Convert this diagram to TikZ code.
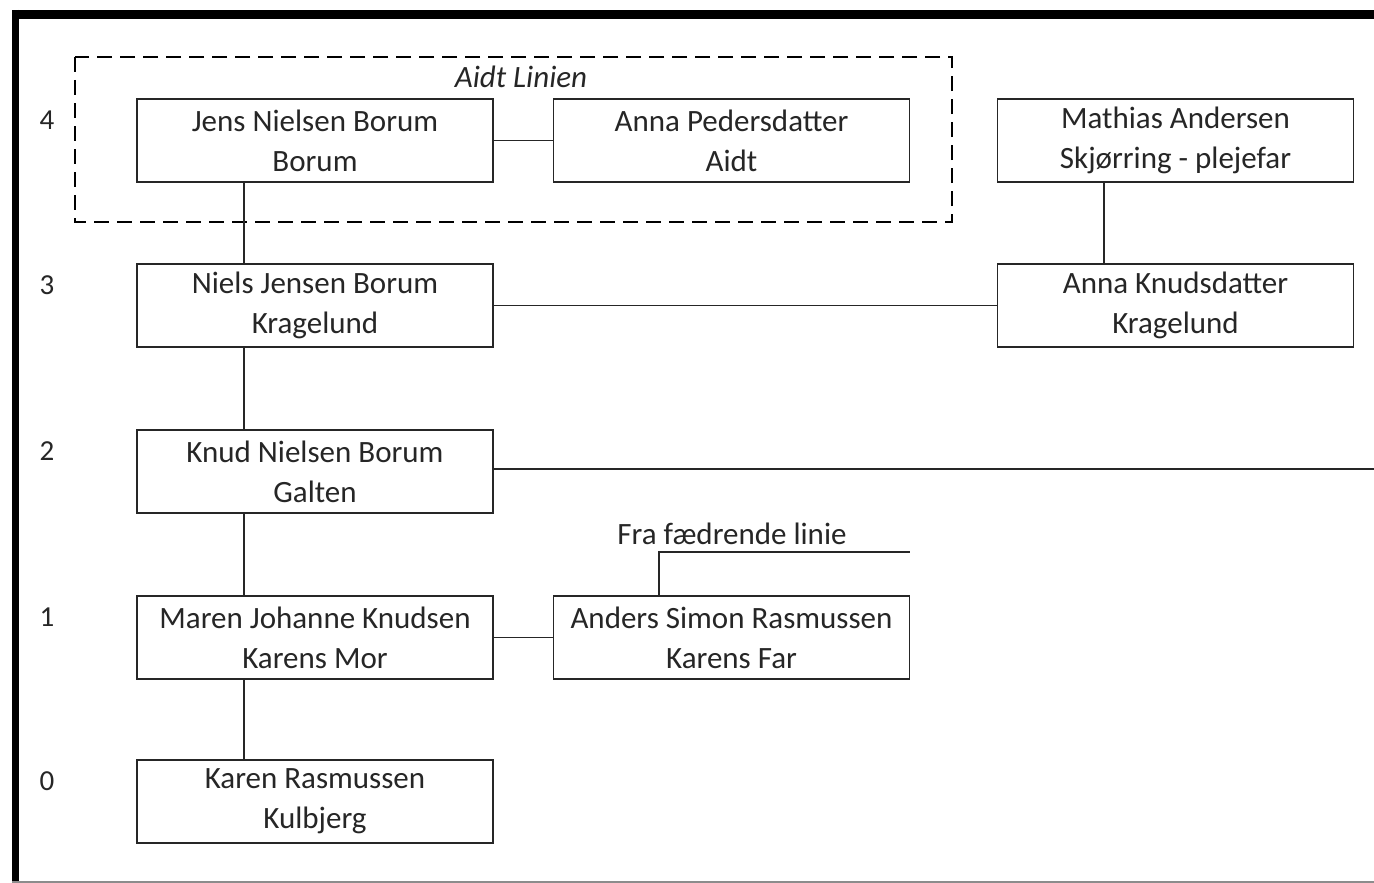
\documentclass[tikz,border=0pt]{standalone}
\usepackage{fontspec}
\setmainfont{Carlito}
\begin{document}
\begin{tikzpicture}[x=1pt,y=-1pt,
  person/.style={draw=black!85,line width=1.8pt,minimum width=356pt,minimum height=83pt,inner sep=0pt,
    align=center,font=\fontsize{31}{40}\selectfont,text=black!85},
  lvl/.style={font=\fontsize{29}{30}\selectfont,text=black!85},
  link/.style={draw=black!85,line width=1.8pt}]
\useasboundingbox (0,0) rectangle (1374,883);
\fill[white] (0,0) rectangle (1374,883);
% outer frame
\draw[line width=9pt] (12,14.5) -- (1374,14.5);
\draw[line width=7pt] (15.5,10) -- (15.5,883);
\draw[black!45,line width=1.5pt] (12,882) -- (1374,882);
% dashed group
\draw[line width=2pt,dash pattern=on 15pt off 8pt] (75,57) rectangle (952,222);
\node[font=\fontsize{31}{30}\selectfont\itshape,text=black!85] (aidt) at (521,77) {Aidt Linien};
% level numbers
\node[lvl] (l4) at (47,120) {4};
\node[lvl] (l3) at (47,285) {3};
\node[lvl] (l2) at (47,451) {2};
\node[lvl] (l1) at (47,617) {1};
\node[lvl] (l0) at (47,781) {0};
% persons
\node[person] (jens) at (315,140.5) {Jens Nielsen Borum\\Borum};
\node[person] (annap) at (731.5,140.5) {Anna Pedersdatter\\Aidt};
\node[person] (math) at (1175.5,140.5) {Mathias Andersen\\Skjørring - plejefar};
\node[person] (niels) at (315,305.5) {Niels Jensen Borum\\Kragelund};
\node[person] (annak) at (1175.5,305.5) {Anna Knudsdatter\\Kragelund};
\node[person] (knud) at (315,471.5) {Knud Nielsen Borum\\Galten};
\node[person] (maren) at (315,637.5) {Maren Johanne Knudsen\\Karens Mor};
\node[person] (anders) at (731.5,637.5) {Anders Simon Rasmussen\\Karens Far};
\node[person] (karen) at (315,801.5) {Karen Rasmussen\\Kulbjerg};
\node[font=\fontsize{31}{30}\selectfont,text=black!85] (fra) at (732,534) {Fra fædrende linie};
\coordinate (knudend) at (1374,469);
\coordinate (fraend) at (910,552);
% connectors
\draw[link] (jens.east) -- (annap.west);
\draw[link] (jens.south -| 244,0) -- (niels.north -| 244,0);
\draw[link] (niels.east) -- (annak.west);
\draw[link] (math.south -| 1104,0) -- (annak.north -| 1104,0);
\draw[link] (niels.south -| 244,0) -- (knud.north -| 244,0);
\draw[link] (knud.east |- knudend) -- (knudend);
\draw[link] (knud.south -| 244,0) -- (maren.north -| 244,0);
\draw[link] (maren.east) -- (anders.west);
\draw[link] (anders.north -| 659,0) |- (fraend);
\draw[link] (maren.south -| 244,0) -- (karen.north -| 244,0);
\end{tikzpicture}
\end{document}
